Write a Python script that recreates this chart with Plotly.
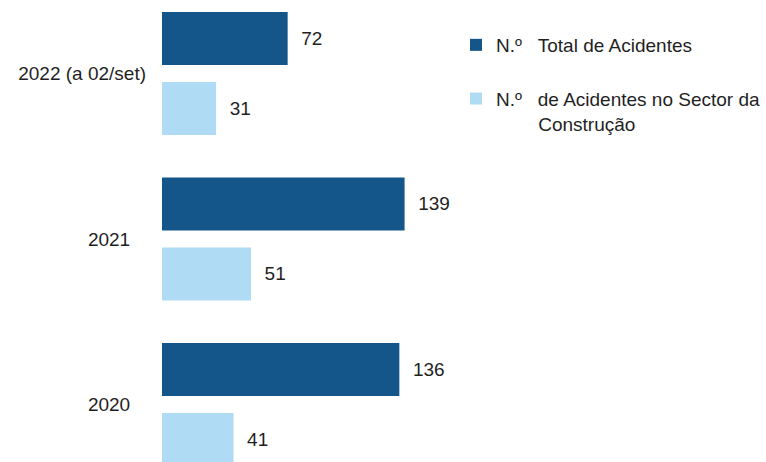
import plotly.graph_objects as go

# Accidents per year (2022 counted up to 2 September)
years = ["2022 (a 02/set)", "2021", "2020"]
total_acidentes = [72, 139, 136]
acidentes_construcao = [31, 51, 41]

series_names = [
    "N.º\u00a0\u00a0\u00a0Total de Acidentes",
    "N.º\u00a0\u00a0\u00a0de Acidentes no Sector da<br>" + "\u00a0" * 8 + "Construção",
]

DARK = "#14558a"
LIGHT = "#afdcf4"
TEXT = "#1f1f1f"
FONT = "Arial, Liberation Sans, sans-serif"

# shorter year labels sit a little further left than the long 2022 label
tick_text = [y if len(y) > 6 else y + "\u00a0" * 3 for y in years]

fig = go.Figure()
fig.add_trace(go.Bar(
    y=years, x=total_acidentes, orientation="h", name=series_names[0],
    marker=dict(color=DARK, line=dict(width=0)),
    texttemplate="\u00a0\u00a0%{x}", textposition="outside",
    textfont=dict(size=19, color=TEXT, family=FONT),
    legendgroup="a", cliponaxis=False,
))
fig.add_trace(go.Bar(
    y=years, x=acidentes_construcao, orientation="h", name=series_names[1],
    marker=dict(color=LIGHT, line=dict(width=0)),
    texttemplate="\u00a0\u00a0%{x}", textposition="outside",
    textfont=dict(size=19, color=TEXT, family=FONT),
    legendgroup="b", cliponaxis=False,
))

fig.update_layout(
    width=766, height=462,
    margin=dict(l=162, r=0, t=0, b=0),
    paper_bgcolor="white", plot_bgcolor="white",
    barmode="group", bargap=0.154, bargroupgap=0.243,
    font=dict(family=FONT, size=19, color=TEXT),
    showlegend=True,
    legend=dict(
        x=0.4868, y=1 - 26 / 462, xanchor="left", yanchor="top",
        traceorder="grouped", tracegroupgap=26, valign="top",
        font=dict(size=19, color=TEXT, family=FONT),
        bgcolor="rgba(0,0,0,0)",
    ),
    xaxis=dict(range=[0, 346.1], visible=False, showgrid=False, zeroline=False),
    yaxis=dict(
        type="category", categoryorder="array", categoryarray=years,
        tickmode="array", tickvals=years, ticktext=tick_text,
        range=[2.3475, -0.444], showgrid=False, zeroline=False, showline=False,
        ticks="", ticklabelstandoff=15, automargin=False,
        tickfont=dict(size=19, color=TEXT, family=FONT),
    ),
)

fig.write_html("out.html")
